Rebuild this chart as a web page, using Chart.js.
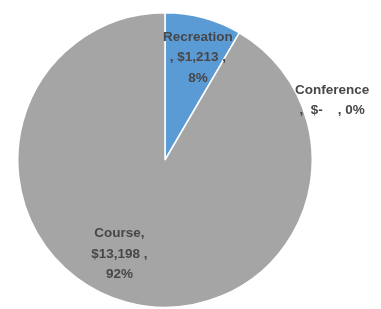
<!DOCTYPE html>
<html>
<head>
<meta charset="utf-8">
<script src="https://cdn.jsdelivr.net/npm/chart.js@4"></script>
<style>
    html, body { margin: 0; padding: 0; background: #fff; }
    #wrap { width: 381px; height: 309px; position: relative; }
</style>
</head>
<body>
<div id="wrap"><canvas id="pie-chart"></canvas></div>
<script>
// chart data
const categories = ['Recreation', 'Conference', 'Course'];
const amounts = [1213, 0, 13198];
const sliceColors = ['#5b9bd5', '#a5a5a5', '#a5a5a5'];

// label placement: radius as share of pie radius, angle offset from slice middle (deg), wrap style
const labelRadius = [0.73, 1.205, 0.71];
const labelAngle = [2.7, 40, 10.7];
const labelWrap = ['lead', 'two', 'trail'];

const total = amounts.reduce((s, v) => s + v, 0);

function money(v) {
    return v === 0 ? '$-   ' : '$' + v.toLocaleString('en-US');
}

function labelLines(i) {
    const cat = categories[i];
    const val = money(amounts[i]);
    const pct = Math.round(amounts[i] / total * 100) + '%';
    if (labelWrap[i] === 'lead') return [cat, ', ' + val + ' ,', pct];
    if (labelWrap[i] === 'two') return [cat, ',  ' + val + ' , ' + pct];
    return [cat + ',', val + ' ,', pct];
}

const sliceLabels = {
    id: 'sliceLabels',
    afterDatasetsDraw(chart) {
        const { ctx } = chart;
        const arcs = chart.getDatasetMeta(0).data;
        ctx.save();
        ctx.font = 'bold 13.5px "Liberation Sans", Arial, sans-serif';
        ctx.fillStyle = '#474747';
        ctx.textAlign = 'center';
        ctx.textBaseline = 'middle';
        const lineH = 20.5;
        arcs.forEach((arc, i) => {
            const mid = (arc.startAngle + arc.endAngle) / 2 + labelAngle[i] * Math.PI / 180;
            const r = arc.outerRadius * labelRadius[i];
            const cx = arc.x + Math.cos(mid) * r;
            const cy = arc.y + Math.sin(mid) * r;
            const lines = labelLines(i);
            const top = cy - (lines.length - 1) * lineH / 2;
            lines.forEach((t, k) => ctx.fillText(t, cx, top + k * lineH));
        });
        ctx.restore();
    }
};

new Chart(document.getElementById('pie-chart'), {
    type: 'pie',
    data: {
        labels: categories,
        datasets: [{
            data: amounts,
            backgroundColor: sliceColors,
            borderColor: '#ffffff',
            borderWidth: 1.5
        }]
    },
    options: {
        responsive: true,
        maintainAspectRatio: false,
        animation: false,
        layout: { padding: { left: 17, right: 68, top: 12, bottom: 1 } },
        plugins: {
            legend: { display: false },
            tooltip: { enabled: false }
        }
    },
    plugins: [sliceLabels]
});
</script>
</body>
</html>
